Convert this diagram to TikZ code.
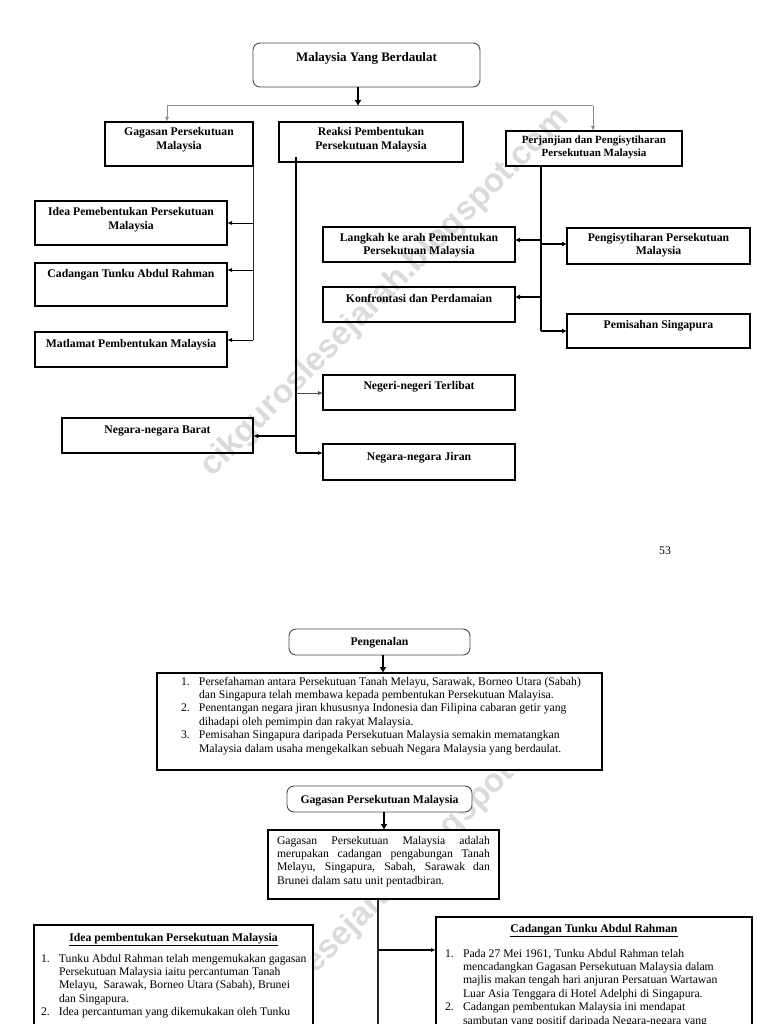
\documentclass[tikz,border=0pt]{standalone}
\usepackage{fontspec}
\setmainfont{Liberation Serif}
\newfontfamily\wmfont{Liberation Sans}
\usetikzlibrary{arrows.meta}
\newcommand\bx[4]{\parbox[t][#2pt][t]{#1pt}{\centering\rule{0pt}{#3pt}#4\par}}
\newcommand\li[2]{\par\hangindent=18pt\hangafter=1\noindent\makebox[18pt][l]{#1}#2\par}
\begin{document}
\begin{tikzpicture}[x=1pt,y=-1pt,
  ubox/.style={draw, line width=1.1pt, inner sep=0pt, outer sep=0pt, anchor=north west,
     font=\bfseries\fontsize{11.7}{13.4}\selectfont},
  rbox/.style={ubox, draw=black!70, line width=0.9pt, rounded corners=7pt, fill=white},
  lbox/.style={ubox, fill=white, font=\fontsize{11.7}{13.4}\selectfont},
  wm/.style={font=\wmfont\bfseries\fontsize{33}{33}\selectfont, text=black!14, rotate=45, inner sep=0pt},
  arr/.style={line width=0.9pt, -{Latex[length=5pt,width=4pt]}},
  tline/.style={line width=0.9pt, black!85},
  gline/.style={line width=1pt, black!45},
  garr/.style={gline, -{Latex[length=5pt,width=4pt]}},
  rline/.style={line width=1.4pt},
  pline/.style={line width=1.1pt},
  parr/.style={line width=1.8pt, -{Latex[length=5pt,width=5pt]}},
  bigarr/.style={line width=2.2pt, -{Latex[length=6pt,width=7pt]}}
]
\path[use as bounding box] (0,0) rectangle (768,1024);
\clip (0,0) rectangle (768,1024);
\fill[white] (0,0) rectangle (768,1024);

% watermarks
\node[wm] (wm1) at (385,293) {cikguroslesejarah.blogspot.com};
\node[wm] (wm2) at (385,893) {cikguroslesejarah.blogspot.com};

% ---------- upper chart ----------
\node[rbox, font=\bfseries\fontsize{13}{15}\selectfont] (main) at (253,43) {\bx{227}{44}{19}{Malaysia Yang Berdaulat}};

\node[ubox] (gag) at (105,122) {\bx{148}{44}{14}{Gagasan Persekutuan\\Malaysia}};
\node[ubox] (reaksi) at (279,122) {\bx{184}{40}{14}{Reaksi Pembentukan\\Persekutuan Malaysia}};
\node[ubox, font=\bfseries\fontsize{11}{12.8}\selectfont] (perj) at (506,131) {\bx{176}{35}{13}{Perjanjian dan Pengisytiharan\\Persekutuan Malaysia}};

\node[ubox] (idea) at (35,201) {\bx{192}{44}{15}{Idea Pemebentukan Persekutuan\\Malaysia}};
\node[ubox] (cad) at (35,263) {\bx{192}{43}{14}{Cadangan Tunku Abdul Rahman}};
\node[ubox] (mat) at (35,332) {\bx{192}{35}{15}{Matlamat Pembentukan Malaysia}};

\node[ubox] (langkah) at (323,227) {\bx{192}{35}{14}{Langkah ke arah Pembentukan\\Persekutuan Malaysia}};
\node[ubox] (konf) at (323,287) {\bx{192}{35}{15}{Konfrontasi dan Perdamaian}};
\node[ubox] (peng) at (567,228) {\bx{183}{36}{13}{Pengisytiharan Persekutuan\\Malaysia}};
\node[ubox] (pemi) at (567,314) {\bx{183}{34}{14}{Pemisahan Singapura}};

\node[ubox] (negeri) at (323,375) {\bx{192}{35}{14}{Negeri-negeri Terlibat}};
\node[ubox] (barat) at (62,418) {\bx{191}{35}{15}{Negara-negara Barat}};
\node[ubox] (jiran) at (323,444) {\bx{192}{36}{16}{Negara-negara Jiran}};

% connectors top
\coordinate (j0) at (358,106);
\coordinate (hl) at (167,106);
\coordinate (hr) at (593,106);
\draw[gline] (hl) -- (hr);
\draw[garr] (hl) -- (hl |- gag.north);
\draw[garr] (hr) -- (hr |- perj.north);
\draw[bigarr] (main.south -| j0) -- (j0);

% Gagasan branch
\coordinate (g1) at (253,223);
\coordinate (g2) at (253,270);
\coordinate (g3) at (253,340);
\draw[tline] (gag.south east) -- (g3);
\draw[arr] (g1) -- (g1 -| idea.east);
\draw[arr] (g2) -- (g2 -| cad.east);
\draw[arr] (g3) -- (g3 -| mat.east);

% Reaksi branch
\coordinate (r0) at (296,157);
\coordinate (r1) at (296,393);
\coordinate (r2) at (296,436);
\coordinate (r3) at (296,453);
\draw[rline] (r0) -- (r3);
\draw[arr, black!70] (r1) -- (r1 -| negeri.west);
\draw[arr, line width=1.3pt] (r2) -- (r2 -| barat.east);
\draw[arr, line width=1.2pt] (r3) -- (r3 -| jiran.west);

% Perjanjian branch
\coordinate (p1) at (541,240);
\coordinate (p2) at (541,244);
\coordinate (p3) at (541,297);
\coordinate (p4) at (541,331);
\draw[pline] (perj.south -| p1) -- (p4);
\draw[parr] (p1) -- (p1 -| langkah.east);
\draw[parr] (p2) -- (p2 -| peng.west);
\draw[parr] (p3) -- (p3 -| konf.east);
\draw[parr] (p4) -- (p4 -| pemi.west);

% page number
\node[font=\fontsize{11.7}{13.4}\selectfont, inner sep=0pt] (pn) at (665,551) {53};

% ---------- lower page ----------
\node[rbox] (pg) at (289,629) {\bx{181}{26}{16}{Pengenalan}};
\node[lbox] (intro) at (157,673) {\parbox[t][97pt][t]{445pt}{\leftskip=24pt\rightskip=0pt plus 1fil\relax
\li{1.}{\rule{0pt}{12pt}\mbox{Persefahaman antara Persekutuan Tanah Melayu, Sarawak, Borneo Utara (Sabah)}\newline\mbox{dan Singapura telah membawa kepada pembentukan Persekutuan Malayisa.}}
\li{2.}{\mbox{Penentangan negara jiran khususnya Indonesia dan Filipina cabaran getir yang}\newline\mbox{dihadapi oleh pemimpin dan rakyat Malaysia.}}
\li{3.}{\mbox{Pemisahan Singapura daripada Persekutuan Malaysia semakin mematangkan}\newline\mbox{Malaysia dalam usaha mengekalkan sebuah Negara Malaysia yang berdaulat.}}
}};
\coordinate (a1) at (383,660);
\draw[bigarr, line width=2pt] (pg.south -| a1) -- (intro.north -| a1);

\node[rbox] (gg) at (287,786) {\bx{185}{26}{17}{Gagasan Persekutuan Malaysia}};
\node[lbox] (gt) at (268,830) {\parbox[t][69pt][t]{231pt}{\leftskip=9pt\rightskip=9pt\parfillskip=0pt plus 1fil\relax
\noindent\rule{0pt}{14pt}Gagasan Persekutuan Malaysia adalah\linebreak merupakan cadangan pengabungan Tanah\linebreak Melayu, Singapura, Sabah, Sarawak dan\linebreak Brunei dalam satu unit pentadbiran.\par}};
\coordinate (a2) at (384,820);
\draw[bigarr, line width=2pt] (gg.south -| a2) -- (gt.north -| a2);

\node[lbox] (lb) at (34,925) {\parbox[t][115pt][t]{279pt}{\centering\rule{0pt}{16pt}\textbf{\underline{Idea pembentukan Persekutuan Malaysia}}\par
\vspace{7.6pt}\leftskip=7pt\rightskip=0pt plus 1fil\relax
\li{1.}{\mbox{Tunku Abdul Rahman telah mengemukakan gagasan}\newline\mbox{Persekutuan Malaysia iaitu percantuman Tanah}\newline\mbox{Melayu,\ \ Sarawak, Borneo Utara (Sabah), Brunei}\newline\mbox{dan Singapura.}}
\li{2.}{\mbox{Idea percantuman yang dikemukakan oleh Tunku}}
}};

\node[lbox] (rb) at (436,917) {\parbox[t][125pt][t]{316pt}{\centering\rule{0pt}{15pt}\textbf{\underline{Cadangan Tunku Abdul Rahman}}\par
\vspace{11.6pt}\leftskip=9pt\rightskip=0pt plus 1fil\relax
\li{1.}{\mbox{Pada 27 Mei 1961, Tunku Abdul Rahman telah}\newline\mbox{mencadangkan Gagasan Persekutuan Malaysia dalam}\newline\mbox{majlis makan tengah hari anjuran Persatuan Wartawan}\newline\mbox{Luar Asia Tenggara di Hotel Adelphi di Singapura.}}
\li{2.}{\mbox{Cadangan pembentukan Malaysia ini mendapat}\newline\mbox{sambutan yang positif daripada Negara-negara yang}}
}};

\coordinate (b1) at (378,950);
\coordinate (b2) at (378,1024);
\draw[tline, line width=1.2pt] (gt.south -| b1) -- (b2);
\draw[arr, line width=1.3pt] (b1) -- (b1 -| rb.west);
\end{tikzpicture}
\end{document}
